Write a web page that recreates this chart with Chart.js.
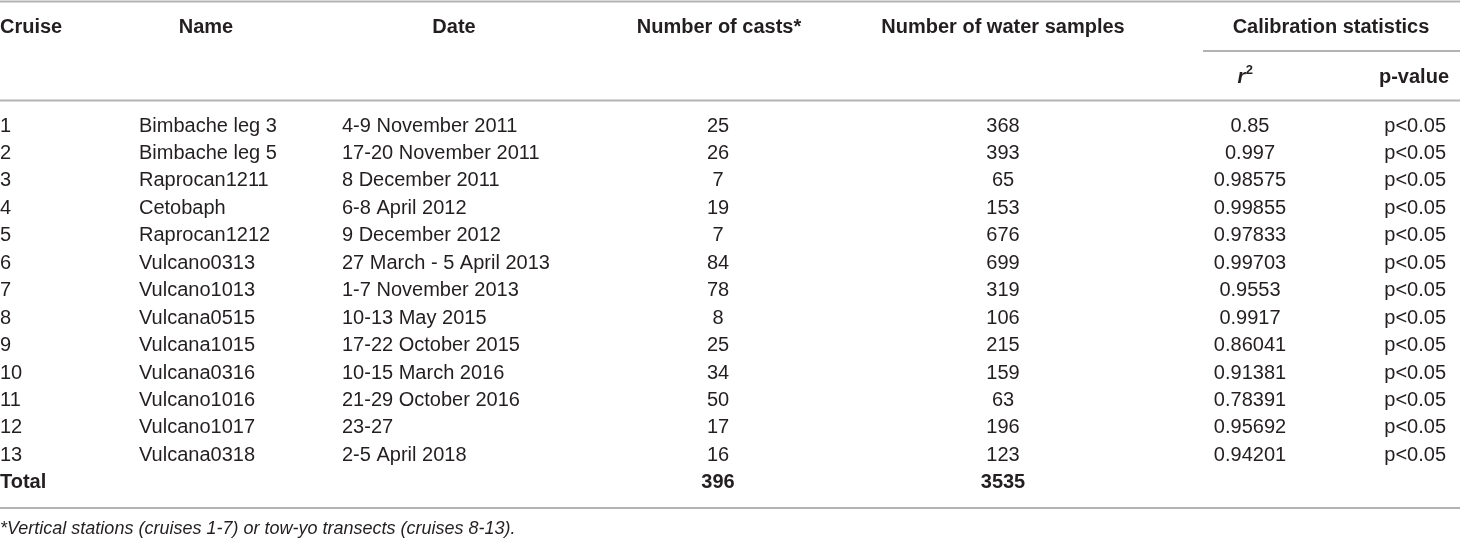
<!DOCTYPE html>
<html><head><meta charset="utf-8">
<script src="https://cdn.jsdelivr.net/npm/chart.js@4.4.1/dist/chart.umd.min.js"></script>
<style>html,body{margin:0;padding:0;background:#fff;overflow:hidden}canvas{display:block}</style>
</head><body>
<canvas id="c" width="1460" height="538"></canvas>
<script>
// ---------------- DATA ----------------
const cruises = ['1','2','3','4','5','6','7','8','9','10','11','12','13'];
const names = ['Bimbache leg 3','Bimbache leg 5','Raprocan1211','Cetobaph','Raprocan1212','Vulcano0313','Vulcano1013','Vulcana0515','Vulcana1015','Vulcana0316','Vulcano1016','Vulcano1017','Vulcana0318'];
const dates = ['4-9 November 2011','17-20 November 2011','8 December 2011','6-8 April 2012','9 December 2012','27 March - 5 April 2013','1-7 November 2013','10-13 May 2015','17-22 October 2015','10-15 March 2016','21-29 October 2016','23-27','2-5 April 2018'];
const casts = [25,26,7,19,7,84,78,8,25,34,50,17,16];
const samples = [368,393,65,153,676,699,319,106,215,159,63,196,123];
const r2 = ['0.85','0.997','0.98575','0.99855','0.97833','0.99703','0.9553','0.9917','0.86041','0.91381','0.78391','0.95692','0.94201'];
const pvalues = ['p<0.05','p<0.05','p<0.05','p<0.05','p<0.05','p<0.05','p<0.05','p<0.05','p<0.05','p<0.05','p<0.05','p<0.05','p<0.05'];
const totalLabel = 'Total';
const totalCasts = 396;
const totalSamples = 3535;
const headers = ['Cruise','Name','Date','Number of casts*','Number of water samples'];
const groupHeader = 'Calibration statistics';
const subHeaders = ['r', 'p-value'];
const footnote = '*Vertical stations (cruises 1-7) or tow-yo transects (cruises 8-13).';

// ---------------- LAYOUT ----------------
const W = 1460, H = 538;
const ROW1 = 126, STEP = 27.45;
const toRow = p => (p - ROW1) / STEP;
const Y = { top: toRow(1.5), head: toRow(27.5), group: toRow(51), sub: toRow(77), rule: toRow(100.5), total: 13, bottom: toRow(508), foot: toRow(529) };
const colX = { cruise: 0, name: 139, date: 342, casts: 718, samples: 1003, r2: 1250, p: 1446 };
const headX = [0, 206, 454, 719, 1003];
const headAlign = ['left','center','center','center','center'];
const groupX = 1331, subX = [1245, 1449];
const ruleColor = '#b3b3b3';
const textColor = '#231f20';
const FONT = '"Liberation Sans", Arial, Helvetica, sans-serif';
const bodyFont = '20px ' + FONT;
const boldFont = 'bold 20px ' + FONT;
const footFont = 'italic 18px ' + FONT;

function textSet(label, xs, ys, texts, align, font, extra) {
  return Object.assign({
    label, isText: true, textAlign: align, textFont: font,
    data: texts.map((t, i) => ({ x: Array.isArray(xs) ? xs[i] : xs, y: Array.isArray(ys) ? ys[i] : ys, t: String(t) })),
    pointRadius: 0, pointHoverRadius: 0, showLine: false
  }, extra || {});
}
function ruleSet(label, x0, x1, y) {
  return { label, isText: false, data: [{ x: x0, y }, { x: x1, y }], showLine: true,
    borderColor: ruleColor, borderWidth: 2, pointRadius: 0, pointHoverRadius: 0, fill: false };
}
const rowIdx = cruises.map((_, i) => i);

const datasets = [
  ruleSet('top', 0, W, Y.top),
  ruleSet('group', 1203, W, Y.group),
  ruleSet('rule', 0, W, Y.rule),
  ruleSet('bottom', 0, W, Y.bottom),
  textSet('headers', headX, Y.head, headers, null, boldFont, { aligns: headAlign }),
  textSet('group', groupX, Y.group - 0.87, [groupHeader], 'center', boldFont),
  textSet('sub-r2', subX[0], Y.sub, [subHeaders[0]], 'center', 'italic bold 20px ' + FONT, { sup: '2' }),
  textSet('sub-p', subX[1], Y.sub, [subHeaders[1]], 'right', boldFont),
  textSet('cruise', colX.cruise, rowIdx, cruises, 'left', bodyFont),
  textSet('name', colX.name, rowIdx, names, 'left', bodyFont),
  textSet('date', colX.date, rowIdx, dates, 'left', bodyFont),
  textSet('casts', colX.casts, rowIdx, casts, 'center', bodyFont),
  textSet('samples', colX.samples, rowIdx, samples, 'center', bodyFont),
  textSet('r2', colX.r2, rowIdx, r2, 'center', bodyFont),
  textSet('p', colX.p, rowIdx, pvalues, 'right', bodyFont),
  textSet('total', [colX.cruise, colX.casts, colX.samples], Y.total, [totalLabel, totalCasts, totalSamples], null, boldFont, { aligns: ['left','center','center'] }),
  textSet('foot', 0, Y.foot, [footnote], 'left', footFont)
];

const textPlugin = {
  id: 'tableText',
  afterDatasetsDraw(chart) {
    const ctx = chart.ctx;
    chart.data.datasets.forEach((ds, di) => {
      if (!ds.isText) return;
      const meta = chart.getDatasetMeta(di);
      meta.data.forEach((el, j) => {
        const t = ds.data[j].t;
        const align = ds.aligns ? ds.aligns[j] : ds.textAlign;
        ctx.save();
        ctx.fillStyle = textColor;
        ctx.font = ds.textFont;
        ctx.textBaseline = 'middle';
        if (ds.sup) {
          const w1 = ctx.measureText(t).width;
          ctx.font = 'bold 13px ' + FONT;
          const w2 = ctx.measureText(ds.sup).width;
          const x0 = el.x - (w1 + w2) / 2;
          ctx.font = ds.textFont;
          ctx.textAlign = 'left';
          ctx.fillText(t, x0, el.y);
          ctx.font = 'bold 13px ' + FONT;
          ctx.fillText(ds.sup, x0 + w1 + 0.5, el.y - 7);
        } else {
          ctx.textAlign = align;
          ctx.fillText(t, el.x, el.y);
        }
        ctx.restore();
      });
    });
  }
};

new Chart(document.getElementById('c'), {
  type: 'scatter',
  data: { datasets },
  options: {
    responsive: false, animation: false, devicePixelRatio: 1,
    layout: { padding: 0 },
    plugins: { legend: { display: false }, tooltip: { enabled: false } },
    events: [],
    scales: {
      x: { type: 'linear', min: 0, max: W, display: false },
      y: { type: 'linear', reverse: true, min: toRow(0), max: toRow(H), display: false }
    },
    elements: { line: { tension: 0 } }
  },
  plugins: [textPlugin]
});
</script>
</body></html>
